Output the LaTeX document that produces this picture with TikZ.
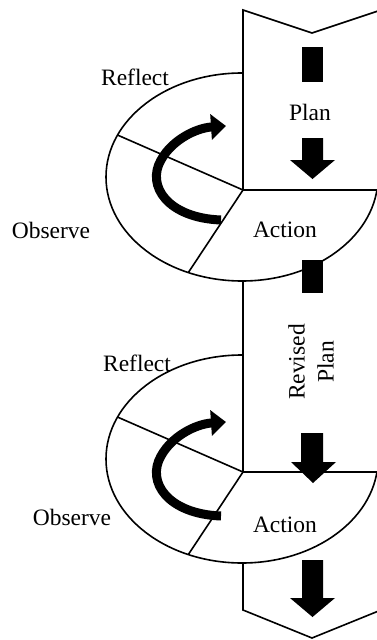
\documentclass[tikz,border=0pt]{standalone}
\usepackage{fontspec}
\setmainfont{Liberation Serif}
\usetikzlibrary{arrows.meta}
\tikzset{
  outline/.style={line width=1.6pt, line join=miter},
  blk/.style={fill=black, draw=none},
  carrow/.style={line width=9pt, -{Triangle[length=15pt,width=25pt]}},
  lbl/.style={font=\fontsize{23.5}{25}\selectfont, inner sep=0pt}
}
\begin{document}
\begin{tikzpicture}[x=1pt,y=-1pt]
\useasboundingbox (0,0) rectangle (376,640);
% ---------- cycle 1 ----------
\coordinate (c1) at (243,190);
\draw[outline] (242,177) ellipse [x radius=136pt, y radius=104pt];
\begin{scope}
  \clip (242,177) ellipse [x radius=136pt, y radius=104pt];
  \draw[outline] (c1) -- ++(-242,-106);
  \draw[outline] (c1) -- ++(-102,154);
\end{scope}
% plan box (covers ellipse top-right)
\fill[white] (243,10) -- (312,33) -- (381,10) -- (420,10) -- (420,190) -- (243,190) -- cycle;
\draw[outline] (243,190) -- (243,10) -- (312,33) -- (381,10);
\draw[outline] (c1) -- (378,190);
\fill[blk] (302,47) rectangle (323,82);
\fill[blk] (302,138) -- (323,138) -- (323,160) -- (335,160) -- (312.5,179) -- (290,160) -- (302,160) -- cycle;
\draw[carrow] (221,220) .. controls (168,218) and (146,186) .. (161,160) .. controls (172,140) and (196,128) .. (226,126);
% ---------- cycle 2 ----------
\coordinate (c2) at (243,472);
\draw[outline] (242,459) ellipse [x radius=136pt, y radius=104pt];
\begin{scope}
  \clip (242,459) ellipse [x radius=136pt, y radius=104pt];
  \draw[outline] (c2) -- ++(-242,-106);
  \draw[outline] (c2) -- ++(-102,154);
\end{scope}
% revised plan box (covers ellipse 2 top-right)
\fill[white] (243,283) -- (420,283) -- (420,472) -- (243,472) -- cycle;
\draw[outline] (243,280) -- (243,472);
\draw[outline] (c2) -- (378,472);
\fill[blk] (302,260) rectangle (323,293);
\fill[blk] (301,433) -- (323,433) -- (323,462) -- (336,462) -- (313,483) -- (291,462) -- (301,462) -- cycle;
\begin{scope}[shift={(0,296)}]
\draw[carrow] (221,220) .. controls (168,218) and (146,186) .. (161,160) .. controls (172,140) and (196,128) .. (226,126);
\end{scope}
% ---------- bottom ----------
\draw[outline] (243,562) -- (243,610) -- (312,638) -- (381,610);
\fill[blk] (302,560) -- (323,560) -- (323,598) -- (335,598) -- (312.5,617) -- (290,598) -- (302,598) -- cycle;
% ---------- labels ----------
\node[lbl] (reflect1) at (135,77) {Reflect};
\node[lbl] (plan1) at (310,112) {Plan};
\node[lbl] (observe1) at (51,230) {Observe};
\node[lbl] (action1) at (285,230) {Action};
\node[lbl] (reflect2) at (137,363) {Reflect};
\node[lbl, rotate=90, align=center, font=\fontsize{23.5}{29}\selectfont] (plan2) at (311,362) {Revised\\Plan};
\node[lbl] (observe2) at (72,517) {Observe};
\node[lbl] (action2) at (285,525) {Action};
\end{tikzpicture}
\end{document}
